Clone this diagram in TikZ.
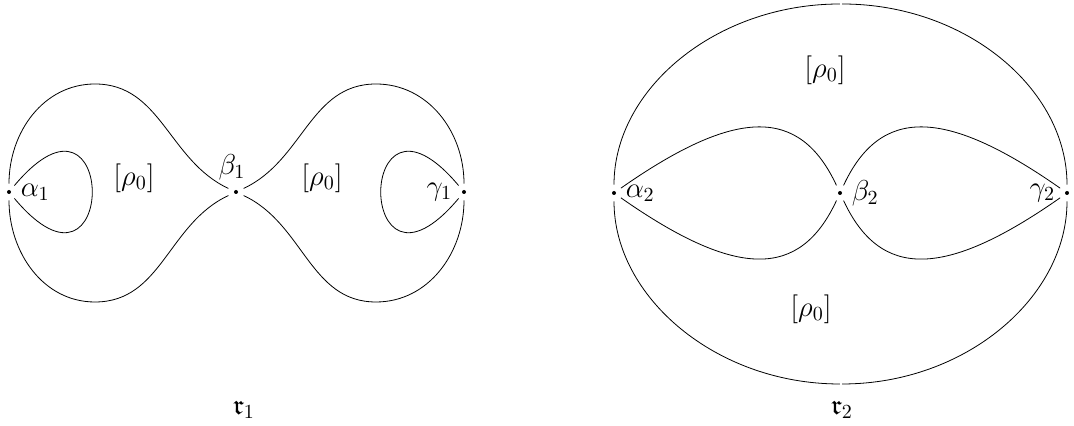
\documentclass[tikz,border=0pt]{standalone}
\usepackage{amssymb}
\tikzset{pt/.style={circle,inner sep=0pt,minimum size=8pt},
  lbl/.style={inner sep=1.5pt},
  mid/.style={inner sep=0.4pt,minimum size=0pt}}
\begin{document}
\begin{tikzpicture}[x=0.5pt,y=0.5pt,font=\fontsize{14}{17}\selectfont]
\useasboundingbox (0,0) rectangle (1074,426);
% r_1
\node[pt,label={[lbl]right:$\alpha_1$}] (a1) at (9,234) {};
\node[pt,label={[lbl,xshift=-2pt]above:$\beta_1$}] (b1) at (236,234) {};
\node[pt,label={[lbl]left:$\gamma_1$}] (c1) at (464,234) {};
\draw (a1) to[out=90,in=180] (95,342) to[out=0,in=155] (b1)
  (a1) to[out=-90,in=180] (95,124) to[out=0,in=-155] (b1)
  (b1) to[out=25,in=180] (376,342) to[out=0,in=90] (c1)
  (b1) to[out=-25,in=180] (376,124) to[out=0,in=-90] (c1);
\draw (a1) .. controls +(50:170) and +(-50:170) .. (a1)
  (c1) .. controls +(130:170) and +(-130:170) .. (c1);
\node (p1) at (134,248) {$[\rho_0]$};
\node (p2) at (322,248) {$[\rho_0]$};
\node (r1) at (244,16) {$\mathfrak{r}_1$};
% r_2
\node[pt,label={[lbl]right:$\alpha_2$}] (a2) at (614,233) {};
\node[pt,label={[lbl]right:$\beta_2$}] (b2) at (840,233) {};
\node[pt,label={[lbl]left:$\gamma_2$}] (c2) at (1067,233) {};
\node[mid] (t2) at (841,422) {};
\node[mid] (d2) at (841,42) {};
\draw (a2) .. controls +(0,104) and +(-125,0) .. (t2)
  .. controls +(125,0) and +(0,104) .. (c2)
  (a2) .. controls +(0,-104) and +(-125,0) .. (d2)
  .. controls +(125,0) and +(0,-104) .. (c2);
\draw (a2) .. controls +(35:150) and +(115:95) .. (b2)
  (a2) .. controls +(-35:150) and +(-115:95) .. (b2)
  (b2) .. controls +(65:95) and +(145:150) .. (c2)
  (b2) .. controls +(-65:95) and +(-145:150) .. (c2);
\node (p3) at (825,356) {$[\rho_0]$};
\node (p4) at (811,117) {$[\rho_0]$};
\node (r2) at (842,16) {$\mathfrak{r}_2$};
\foreach \n in {a1,b1,c1,a2,b2,c2} \fill (\n) circle (1pt);
\end{tikzpicture}
\end{document}
